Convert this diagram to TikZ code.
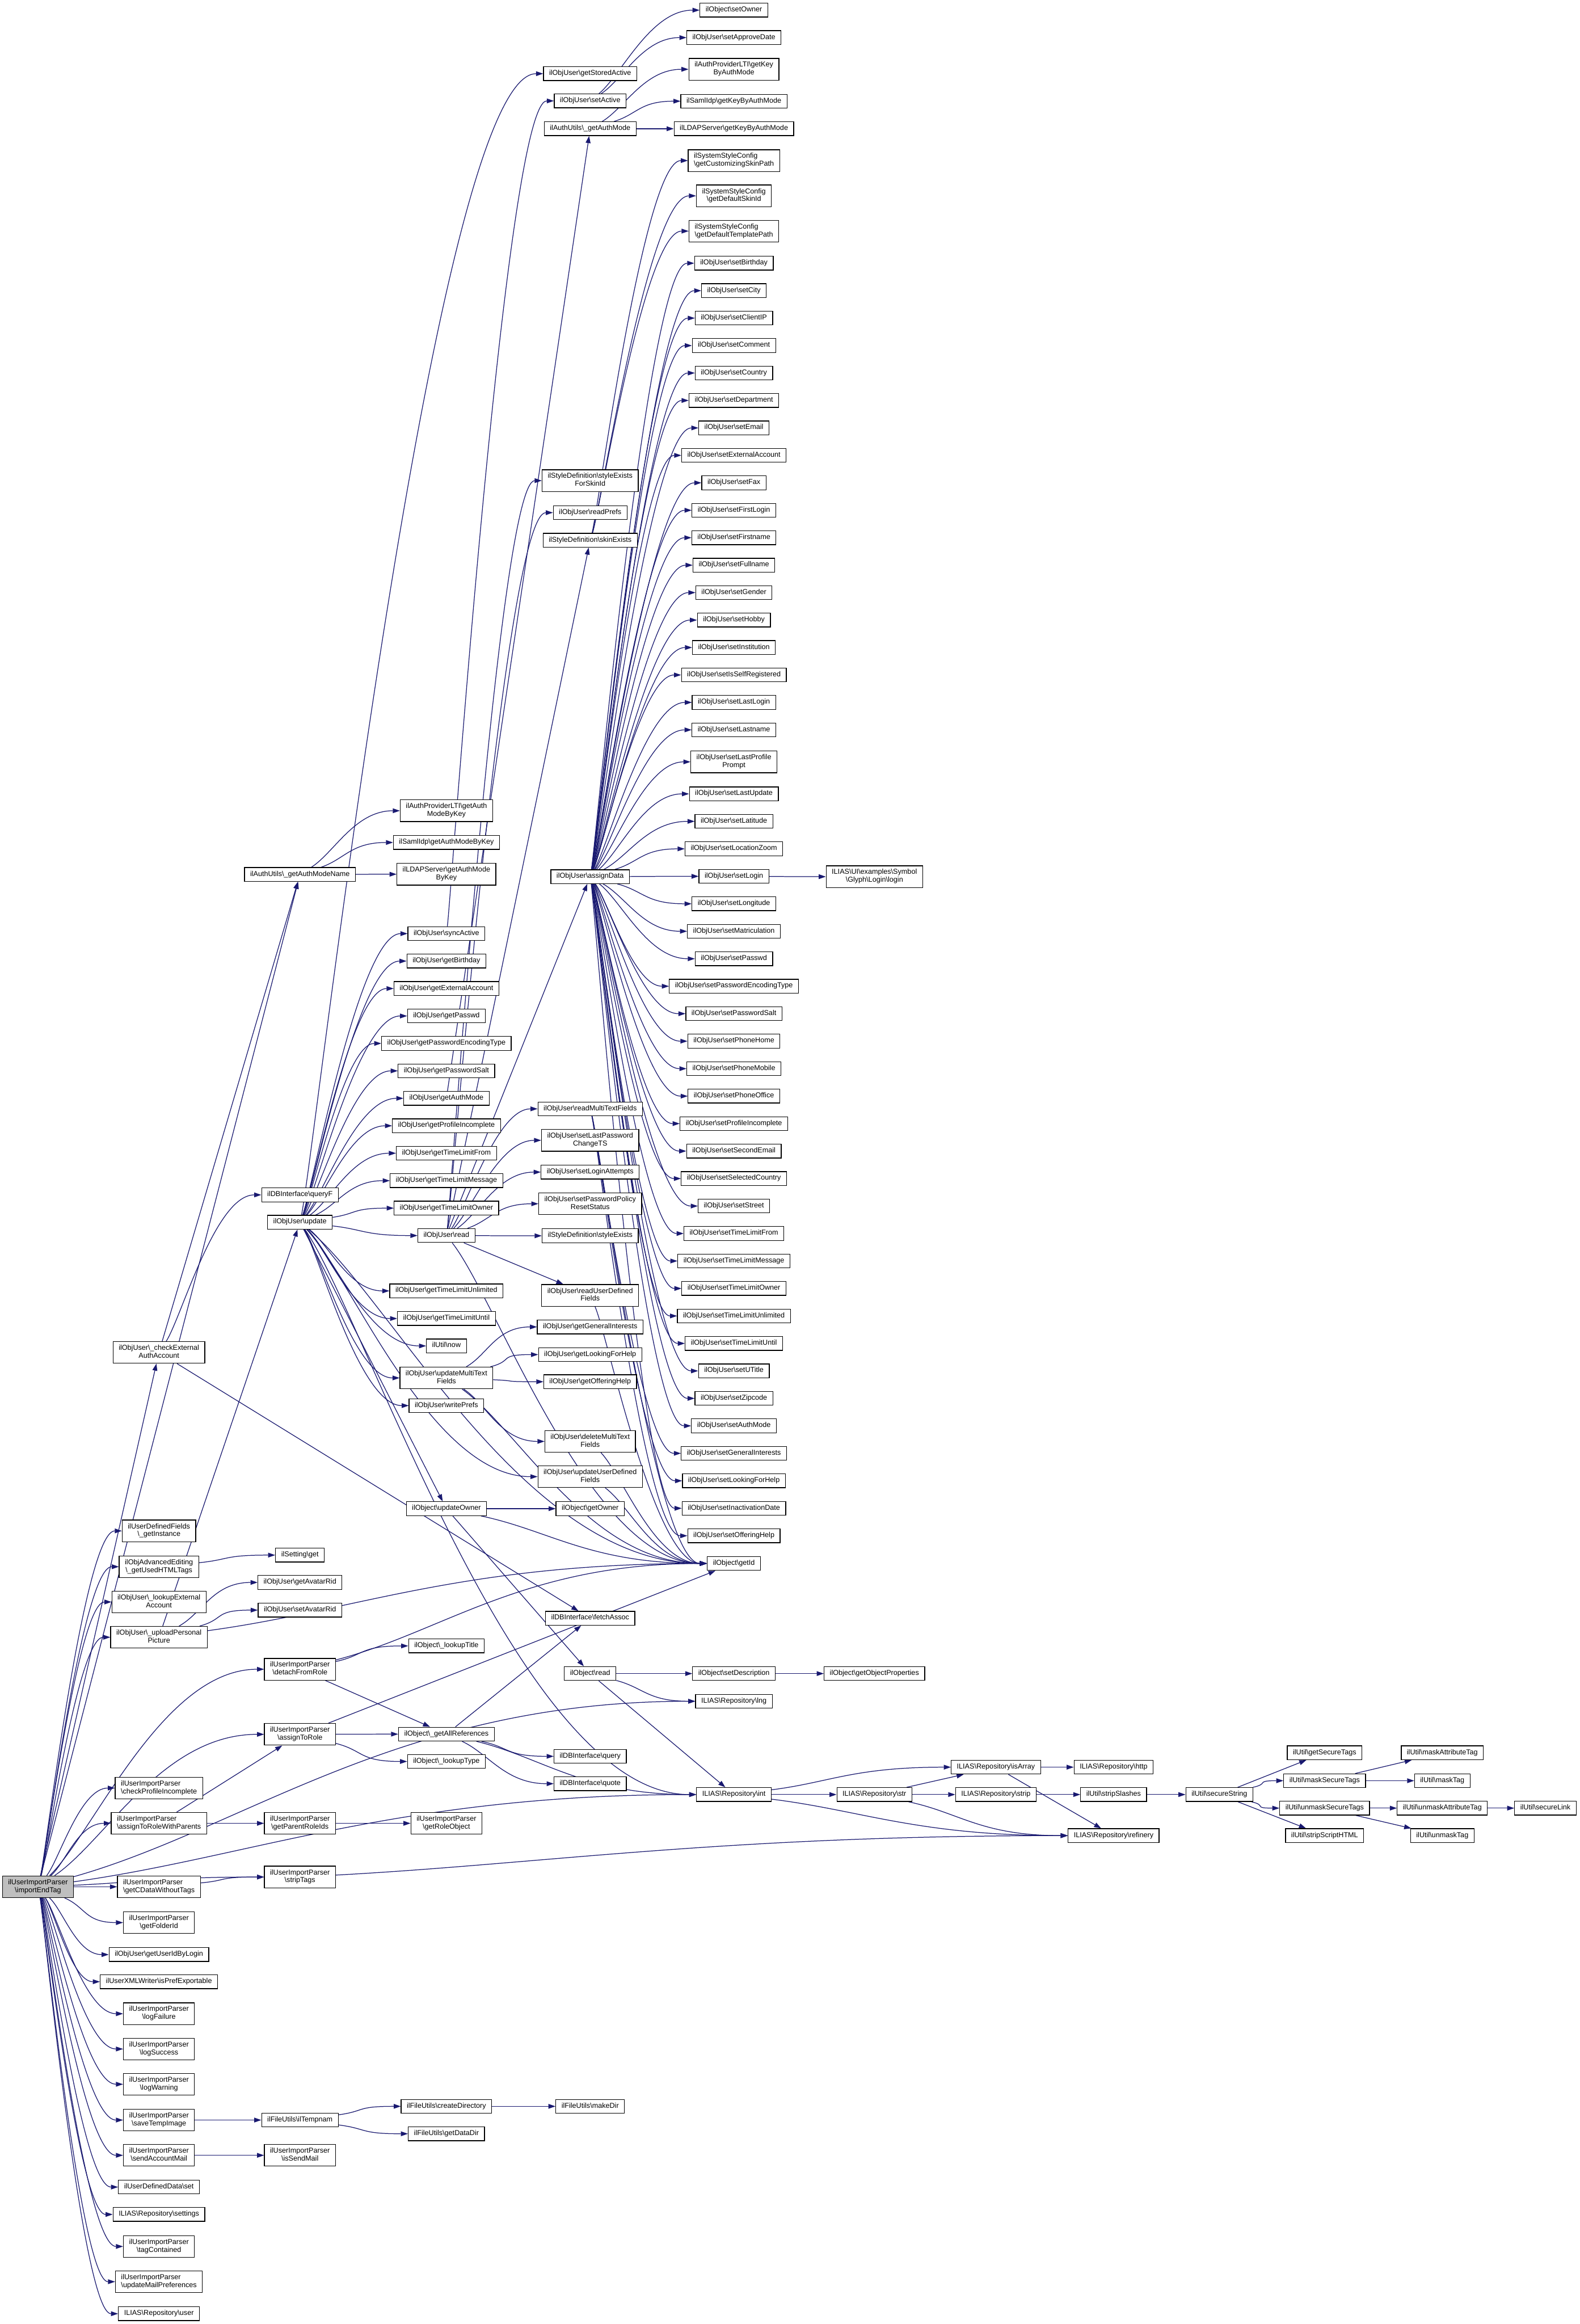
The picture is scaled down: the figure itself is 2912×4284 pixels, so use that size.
\documentclass[tikz,border=0pt]{standalone}
\usepackage{fontspec}
\setmainfont{Liberation Sans}
\usetikzlibrary{arrows.meta}
\pgfdeclarelayer{bg}
\pgfsetlayers{bg,main}
\definecolor{edgecol}{RGB}{25,25,112}
\definecolor{rootfill}{RGB}{191,191,191}
\newcommand\bs{\textbackslash}
\newcommand\nfont{\fontsize{13.2pt}{14.5pt}\selectfont}
\newsavebox\tlA \newsavebox\tlB \newlength\tlW
\newcommand\twol[2]{\sbox\tlA{\strut#1}\sbox\tlB{\strut#2}%
 \setlength\tlW{\wd\tlA}\ifdim\wd\tlB>\tlW \setlength\tlW{\wd\tlB}\fi
 \vbox{\hbox to\tlW{\usebox\tlA\hfil}\hbox to\tlW{\hfil\usebox\tlB\hfil}}}
\newdimen\ecSx \newdimen\ecSy \newdimen\ecEx \newdimen\ecNy \newdimen\ecTx \newdimen\ecTy
\newcommand\ec[2]{%
 \pgfextractx{\ecSx}{\pgfpointanchor{#1}{center}}\pgfextracty{\ecSy}{\pgfpointanchor{#1}{center}}%
 \pgfextractx{\ecEx}{\pgfpointanchor{#1}{east}}\pgfextracty{\ecNy}{\pgfpointanchor{#1}{north}}%
 \pgfextractx{\ecTx}{\pgfpointanchor{#2}{west}}\pgfextracty{\ecTy}{\pgfpointanchor{#2}{west}}%
 \pgfmathsetmacro\ecang{atan2((\ecTy-\ecSy)/10,(\ecTx-\ecSx)/10)}%
 \pgfmathsetmacro\ecdin{max(0.45*(\ecTx-\ecSx),20)}%
 \pgfmathsetmacro\echw{\ecEx-\ecSx}\pgfmathsetmacro\echh{abs(\ecNy-\ecSy)}%
 \pgfmathsetmacro\ecrb{min(\echw/max(abs(cos(\ecang)),0.01),\echh/max(abs(sin(\ecang)),0.01))}%
 \pgfmathsetmacro\ecrad{\ecrb+0.6*\ecdin}%
 \pgfmathsetmacro\ecax{\ecSx+\ecrad*cos(\ecang)}\pgfmathsetmacro\ecay{\ecSy+\ecrad*sin(\ecang)}%
 \pgfmathsetmacro\ecbx{\ecTx-\ecdin}\pgfmathsetmacro\ecty{\ecTy}\pgfmathsetmacro\ectip{\ecTx-13}%
 \pgfmathsetmacro\ectx{\ecTx}%
 \draw[edgeline] (#1) .. controls (\ecax pt,\ecay pt) and (\ecbx pt,\ecty pt) .. (\ectip pt,\ecty pt);
 \fill[edgecol] (\ectip pt,\ecty pt+4.5pt) -- (\ectx pt,\ecty pt) -- (\ectip pt,\ecty pt-4.5pt) -- cycle;}
\newcommand\es[2]{\draw[edge] (#1) -- (#2);}
\tikzset{
 nd/.style={draw=black, line width=1.3pt, fill=white, font=\nfont, inner xsep=10.5pt, inner ysep=5.5pt, execute at begin node=\strut},
 rootnd/.style={nd, fill=rootfill},
 edgeline/.style={draw=edgecol, line width=1.3pt},
 edge/.style={draw=edgecol, line width=1.3pt, -{Triangle[length=13pt,width=9pt]}}
}
\begin{document}
\begin{tikzpicture}[x=1pt,y=-1pt]
\begin{pgfonlayer}{bg}
\fill[white] (0,0) rectangle (2912,4284);
\end{pgfonlayer}
\useasboundingbox (0,0) rectangle (2912,4284);
% root
\node[rootnd] (root) at (70,3478) {\twol{ilUserImportParser}{\bs importEndTag}};
% column 1
\node[nd] (chk) at (293,2493) {\twol{ilObjUser\bs\_checkExternal}{AuthAccount}};
\node[nd] (ginst) at (293,2822) {\twol{ilUserDefinedFields}{\bs\_getInstance}};
\node[nd] (html) at (293,2888) {\twol{ilObjAdvancedEditing}{\bs\_getUsedHTMLTags}};
\node[nd] (lext) at (293,2953) {\twol{ilObjUser\bs\_lookupExternal}{Account}};
\node[nd] (upp) at (293,3018) {\twol{ilObjUser\bs\_uploadPersonal}{Picture}};
\node[nd] (cpi) at (293,3296) {\twol{ilUserImportParser}{\bs checkProfileIncomplete}};
\node[nd] (atrwp) at (293,3361) {\twol{ilUserImportParser}{\bs assignToRoleWithParents}};
\node[nd] (cdata) at (293,3478) {\twol{ilUserImportParser}{\bs getCDataWithoutTags}};
\node[nd] (folder) at (293,3544) {\twol{ilUserImportParser}{\bs getFolderId}};
\node[nd] (uidl) at (293,3603) {ilObjUser\bs getUserIdByLogin};
\node[nd] (pref) at (293,3653) {ilUserXMLWriter\bs isPrefExportable};
\node[nd] (lfail) at (293,3712) {\twol{ilUserImportParser}{\bs logFailure}};
\node[nd] (lsucc) at (293,3777) {\twol{ilUserImportParser}{\bs logSuccess}};
\node[nd] (lwarn) at (293,3842) {\twol{ilUserImportParser}{\bs logWarning}};
\node[nd] (stemp) at (293,3908) {\twol{ilUserImportParser}{\bs saveTempImage}};
\node[nd] (sam) at (293,3973) {\twol{ilUserImportParser}{\bs sendAccountMail}};
\node[nd] (udset) at (293,4031.5) {ilUserDefinedData\bs set};
\node[nd] (rset) at (293,4082) {ILIAS\bs Repository\bs settings};
\node[nd] (tagc) at (293,4141) {\twol{ilUserImportParser}{\bs tagContained}};
\node[nd] (ump) at (293,4206) {\twol{ilUserImportParser}{\bs updateMailPreferences}};
\node[nd] (ruser) at (293,4265) {ILIAS\bs Repository\bs user};
% column 2
\node[nd] (amn) at (553,1612) {ilAuthUtils\bs\_getAuthModeName};
\node[nd] (qf) at (553,2202.6) {ilDBInterface\bs queryF};
\node[nd] (upd) at (553,2253) {ilObjUser\bs update};
\node[nd] (sget) at (553,2866.6) {ilSetting\bs get};
\node[nd] (gar) at (553,2917) {ilObjUser\bs getAvatarRid};
\node[nd] (sar) at (553,2968) {ilObjUser\bs setAvatarRid};
\node[nd] (dfr) at (553,3077) {\twol{ilUserImportParser}{\bs detachFromRole}};
\node[nd] (atr) at (553,3197) {\twol{ilUserImportParser}{\bs assignToRole}};
\node[nd] (gpr) at (553,3361) {\twol{ilUserImportParser}{\bs getParentRoleIds}};
\node[nd] (stags) at (553,3460) {\twol{ilUserImportParser}{\bs stripTags}};
\node[nd] (tmpn) at (553,3908) {ilFileUtils\bs ilTempnam};
\node[nd] (ism) at (553,3973) {\twol{ilUserImportParser}{\bs isSendMail}};
% column 3
\node[nd] (lti1) at (823,1494.5) {\twol{ilAuthProviderLTI\bs getAuth}{ModeByKey}};
\node[nd] (saml1) at (823,1553) {ilSamlIdp\bs getAuthModeByKey};
\node[nd] (ldap1) at (823,1611.5) {\twol{ilLDAPServer\bs getAuthMode}{ByKey}};
\node[nd] (sync) at (823,1721) {ilObjUser\bs syncActive};
\foreach \nm [count=\i from 0] in {Birthday,ExternalAccount,Passwd,PasswordEncodingType,PasswordSalt,AuthMode,ProfileIncomplete,TimeLimitFrom,TimeLimitMessage,TimeLimitOwner}
  \node[nd] (g\nm) at (823,1771.6+50.6*\i) {ilObjUser\bs get\nm};
\node[nd] (rd) at (823,2277.6) {ilObjUser\bs read};
\node[nd] (gTimeLimitUnlimited) at (823,2379.6) {ilObjUser\bs getTimeLimitUnlimited};
\node[nd] (gTimeLimitUntil) at (823,2430.5) {ilObjUser\bs getTimeLimitUntil};
\node[nd] (now) at (823,2481) {ilUtil\bs now};
\node[nd] (umtf) at (823,2540) {\twol{ilObjUser\bs updateMultiText}{Fields}};
\node[nd] (wp) at (823,2591) {ilObjUser\bs writePrefs};
\node[nd] (uo) at (823,2781) {ilObject\bs updateOwner};
\node[nd] (ltitle) at (823,3034) {ilObject\bs\_lookupTitle};
\node[nd] (gallr) at (823,3196.6) {ilObject\bs\_getAllReferences};
\node[nd] (ltype) at (823,3247) {ilObject\bs\_lookupType};
\node[nd] (gro) at (823,3361) {\twol{ilUserImportParser}{\bs getRoleObject}};
\node[nd] (cdir) at (823,3882.7) {ilFileUtils\bs createDirectory};
\node[nd] (gdd) at (823,3933.3) {ilFileUtils\bs getDataDir};
% column 4
\node[nd] (gsa) at (1088,135.8) {ilObjUser\bs getStoredActive};
\node[nd] (sa) at (1088,186) {ilObjUser\bs setActive};
\node[nd] (gam2) at (1088,237.3) {ilAuthUtils\bs\_getAuthMode};
\node[nd] (sefs) at (1088,886) {\twol{ilStyleDefinition\bs styleExists}{ForSkinId}};
\node[nd] (rp) at (1088,945) {ilObjUser\bs readPrefs};
\node[nd] (se) at (1088,996) {ilStyleDefinition\bs skinExists};
\node[nd] (ad) at (1088,1616) {ilObjUser\bs assignData};
\node[nd] (rmtf) at (1088,2044) {ilObjUser\bs readMultiTextFields};
\node[nd] (slpc) at (1088,2102) {\twol{ilObjUser\bs setLastPassword}{ChangeTS}};
\node[nd] (sla) at (1088,2160.6) {ilObjUser\bs setLoginAttempts};
\node[nd] (sppr) at (1088,2219) {\twol{ilObjUser\bs setPasswordPolicy}{ResetStatus}};
\node[nd] (sex) at (1088,2278) {ilStyleDefinition\bs styleExists};
\node[nd] (rudf) at (1088,2388) {\twol{ilObjUser\bs readUserDefined}{Fields}};
\node[nd] (ggi) at (1088,2446) {ilObjUser\bs getGeneralInterests};
\node[nd] (glfh) at (1088,2497) {ilObjUser\bs getLookingForHelp};
\node[nd] (goh) at (1088,2547) {ilObjUser\bs getOfferingHelp};
\node[nd] (dmtf) at (1088,2657) {\twol{ilObjUser\bs deleteMultiText}{Fields}};
\node[nd] (uudf) at (1088,2722) {\twol{ilObjUser\bs updateUserDefined}{Fields}};
\node[nd] (gown) at (1088,2781) {ilObject\bs getOwner};
\node[nd] (fa) at (1088,2983) {ilDBInterface\bs fetchAssoc};
\node[nd] (ord) at (1088,3085) {ilObject\bs read};
\node[nd] (qry) at (1088,3237.5) {ilDBInterface\bs query};
\node[nd] (qt) at (1088,3288) {ilDBInterface\bs quote};
\node[nd] (mkd) at (1088,3882.7) {ilFileUtils\bs makeDir};
% column 5
\node[nd] (sown) at (1353,18.7) {ilObject\bs setOwner};
\node[nd] (sapd) at (1353,69.3) {ilObjUser\bs setApproveDate};
\node[nd] (lti2) at (1353,127.7) {\twol{ilAuthProviderLTI\bs getKey}{ByAuthMode}};
\node[nd] (saml2) at (1353,186.5) {ilSamlIdp\bs getKeyByAuthMode};
\node[nd] (ldap2) at (1353,237.3) {ilLDAPServer\bs getKeyByAuthMode};
\node[nd] (csp) at (1353,296) {\twol{ilSystemStyleConfig}{\bs getCustomizingSkinPath}};
\node[nd] (dsi) at (1353,361) {\twol{ilSystemStyleConfig}{\bs getDefaultSkinId}};
\node[nd] (dtp) at (1353,426) {\twol{ilSystemStyleConfig}{\bs getDefaultTemplatePath}};
\foreach \nm [count=\i from 0] in {Birthday,City,ClientIP,Comment,Country,Department,Email,ExternalAccount,Fax,FirstLogin,Firstname,Fullname,Gender,Hobby,Institution,IsSelfRegistered,LastLogin,Lastname}
  \node[nd] (s\nm) at (1353,485.2+50.6*\i) {ilObjUser\bs set\nm};
\node[nd] (sLastProfilePrompt) at (1353,1404.4) {\twol{ilObjUser\bs setLastProfile}{Prompt}};
\foreach \nm [count=\i from 0] in {LastUpdate,Latitude,LocationZoom,Login,Longitude,Matriculation,Passwd,PasswordEncodingType,PasswordSalt,PhoneHome,PhoneMobile,PhoneOffice,ProfileIncomplete,SecondEmail,SelectedCountry,Street,TimeLimitFrom,TimeLimitMessage,TimeLimitOwner,TimeLimitUnlimited,TimeLimitUntil,UTitle,Zipcode,AuthMode,GeneralInterests,LookingForHelp,InactivationDate,OfferingHelp}
  \node[nd] (s\nm) at (1353,1463.4+50.65*\i) {ilObjUser\bs set\nm};
\node[nd] (getId) at (1353,2882) {ilObject\bs getId};
\node[nd] (sdesc) at (1353,3085) {ilObject\bs setDescription};
\node[nd] (lng) at (1353,3136) {ILIAS\bs Repository\bs lng};
\node[nd] (rint) at (1353,3308) {ILIAS\bs Repository\bs int};
% column 6+
\node[nd] (login) at (1612,1616) {\twol{ILIAS\bs UI\bs examples\bs Symbol}{\bs Glyph\bs Login\bs login}};
\node[nd] (gop) at (1612,3085) {ilObject\bs getObjectProperties};
\node[nd] (str) at (1612,3308) {ILIAS\bs Repository\bs str};
\node[nd] (isarr) at (1836,3257.5) {ILIAS\bs Repository\bs isArray};
\node[nd] (strip) at (1836,3308) {ILIAS\bs Repository\bs strip};
\node[nd] (http) at (2053,3257.5) {ILIAS\bs Repository\bs http};
\node[nd] (sslash) at (2053,3308) {ilUtil\bs stripSlashes};
\node[nd] (refin) at (2053,3383.7) {ILIAS\bs Repository\bs refinery};
\node[nd] (secs) at (2248,3308) {ilUtil\bs secureString};
\node[nd] (gst) at (2442,3231) {ilUtil\bs getSecureTags};
\node[nd] (mst) at (2442,3282.5) {ilUtil\bs maskSecureTags};
\node[nd] (ust) at (2442,3333) {ilUtil\bs unmaskSecureTags};
\node[nd] (ssh) at (2442,3383.7) {ilUtil\bs stripScriptHTML};
\node[nd] (mat) at (2659,3231) {ilUtil\bs maskAttributeTag};
\node[nd] (mtag) at (2659,3282.5) {ilUtil\bs maskTag};
\node[nd] (uat) at (2659,3333) {ilUtil\bs unmaskAttributeTag};
\node[nd] (utag) at (2659,3383.7) {ilUtil\bs unmaskTag};
\node[nd] (slink) at (2849,3333) {ilUtil\bs secureLink};
% ---------------- edges (behind the boxes)
\begin{pgfonlayer}{bg}
\es{root}{amn}
\es{root}{chk}
\foreach \t in {ginst,html,lext,upp,dfr,lng,atr,rint,cpi,atrwp,stags,cdata,folder,uidl,pref,lfail,lsucc,lwarn,stemp,sam,udset,rset,tagc,ump,ruser}
  {\ec{root}{\t}}
\es{chk}{amn} \ec{chk}{qf} \es{chk}{fa}
\ec{html}{sget}
\es{upp}{upd} \ec{upp}{gar} \ec{upp}{sar} \ec{upp}{getId}
\ec{atrwp}{gpr} \es{atrwp}{atr}
\ec{cdata}{stags}
\ec{stemp}{tmpn} \ec{sam}{ism}
\ec{amn}{lti1} \ec{amn}{saml1} \ec{amn}{ldap1}
\foreach \t in {gsa,sync,gBirthday,gExternalAccount,gPasswd,gPasswordEncodingType,gPasswordSalt,gAuthMode,gProfileIncomplete,gTimeLimitFrom,gTimeLimitMessage,gTimeLimitOwner,rd,gTimeLimitUnlimited,gTimeLimitUntil,now,umtf,wp,uudf,getId,rint}
  {\ec{upd}{\t}}
\es{upd}{uo}
\ec{dfr}{ltitle} \es{dfr}{gallr} \ec{dfr}{getId}
\ec{atr}{gallr} \ec{atr}{ltype} \es{atr}{getId}
\ec{gpr}{gro}
\ec{stags}{refin}
\ec{tmpn}{cdir} \ec{tmpn}{gdd}
\ec{cdir}{mkd}
\ec{sync}{sa}
\es{gAuthMode}{gam2}
\ec{rd}{sefs} \ec{rd}{rp} \es{rd}{se} \es{rd}{ad} \ec{rd}{rmtf} \ec{rd}{slpc} \ec{rd}{sla} \ec{rd}{sppr} \ec{rd}{sex} \es{rd}{rudf} \ec{rd}{getId}
\ec{umtf}{ggi} \ec{umtf}{glfh} \ec{umtf}{goh} \ec{umtf}{dmtf} \ec{umtf}{getId}
\ec{uo}{gown} \ec{uo}{getId} \es{uo}{ord}
\es{gallr}{fa} \ec{gallr}{qry} \ec{gallr}{qt} \ec{gallr}{rint}
\ec{sa}{sown} \ec{sa}{sapd}
\ec{gam2}{lti2} \ec{gam2}{saml2} \ec{gam2}{ldap2}
\ec{se}{csp} \ec{se}{dsi} \ec{se}{dtp}
\foreach \t in {sBirthday,sCity,sClientIP,sComment,sCountry,sDepartment,sEmail,sExternalAccount,sFax,sFirstLogin,sFirstname,sFullname,sGender,sHobby,sInstitution,sIsSelfRegistered,sLastLogin,sLastname,sLastProfilePrompt,sLastUpdate,sLatitude,sLocationZoom,sLogin,sLongitude,sMatriculation,sPasswd,sPasswordEncodingType,sPasswordSalt,sPhoneHome,sPhoneMobile,sPhoneOffice,sProfileIncomplete,sSecondEmail,sSelectedCountry,sStreet,sTimeLimitFrom,sTimeLimitMessage,sTimeLimitOwner,sTimeLimitUnlimited,sTimeLimitUntil,sUTitle,sZipcode,sAuthMode,sInactivationDate}
  {\ec{ad}{\t}}
\ec{rmtf}{sGeneralInterests} \ec{rmtf}{sLookingForHelp} \ec{rmtf}{sOfferingHelp} \ec{rmtf}{getId}
\ec{rudf}{getId} \ec{dmtf}{getId} \ec{uudf}{getId}
\ec{ord}{sdesc} \ec{ord}{lng} \es{ord}{rint}
\ec{sLogin}{login}
\ec{sdesc}{gop}
\ec{rint}{isarr} \ec{rint}{str} \ec{rint}{refin}
\es{str}{isarr} \ec{str}{strip} \ec{str}{refin}
\ec{isarr}{http} \es{isarr}{refin}
\ec{strip}{sslash} \ec{sslash}{secs}
\es{secs}{gst} \ec{secs}{mst} \ec{secs}{ust} \es{secs}{ssh}
\es{mst}{mat} \ec{mst}{mtag}
\ec{ust}{uat} \es{ust}{utag}
\ec{uat}{slink}
\end{pgfonlayer}
\end{tikzpicture}
\end{document}
